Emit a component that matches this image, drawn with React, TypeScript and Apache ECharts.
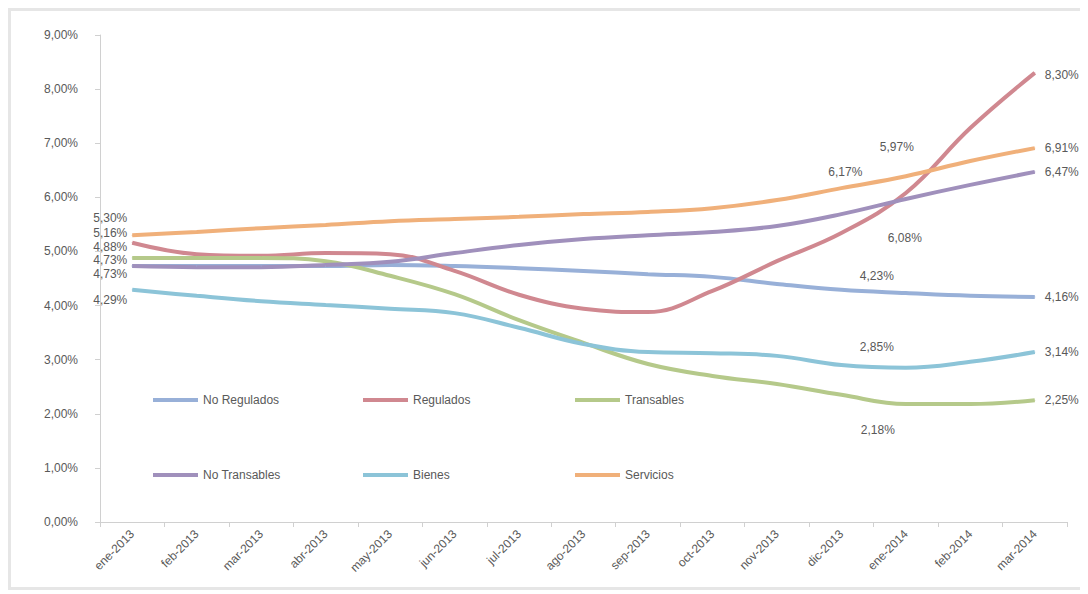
import React, { useEffect, useRef } from "react";
import * as echarts from "echarts";

const categories = [
  "ene-2013", "feb-2013", "mar-2013", "abr-2013", "may-2013", "jun-2013", "jul-2013", "ago-2013",
  "sep-2013", "oct-2013", "nov-2013", "dic-2013", "ene-2014", "feb-2014", "mar-2014",
];

const seriesNames = ["No Regulados", "Regulados", "Transables", "No Transables", "Bienes", "Servicios"];

const noRegulados = [4.73, 4.73, 4.73, 4.73, 4.75, 4.73, 4.69, 4.64, 4.58, 4.53, 4.4, 4.29, 4.23, 4.18, 4.16];
const regulados = [5.16, 4.95, 4.92, 4.97, 4.95, 4.64, 4.2, 3.94, 3.88, 4.27, 4.82, 5.34, 6.08, 7.28, 8.3];
const transables = [4.88, 4.88, 4.88, 4.82, 4.55, 4.21, 3.73, 3.31, 2.92, 2.7, 2.55, 2.35, 2.18, 2.18, 2.25];
const noTransables = [4.73, 4.71, 4.71, 4.75, 4.81, 4.97, 5.12, 5.23, 5.3, 5.36, 5.47, 5.69, 5.97, 6.23, 6.47];
const bienes = [4.29, 4.18, 4.08, 4.01, 3.94, 3.86, 3.59, 3.29, 3.14, 3.12, 3.07, 2.9, 2.85, 2.96, 3.14];
const servicios = [5.3, 5.36, 5.43, 5.49, 5.56, 5.6, 5.64, 5.69, 5.73, 5.8, 5.95, 6.17, 6.39, 6.67, 6.91];

const yTicks = [0, 1, 2, 3, 4, 5, 6, 7, 8, 9];

// styling (not data)
const colors = ["#98b0d8", "#d08890", "#b5c98a", "#a090bc", "#8cc4d8", "#f0b07a"];
// [pointIndex, dx, dy] label placements
const labelSpecs: Array<Array<[number, number, number]>> = [
  [[0, -22, 8], [12, -29, -17], [14, 27, 0]],
  [[0, -22, -10], [12, -1, 45], [14, 27, 2]],
  [[0, -22, -11], [12, -28, 26], [14, 27, 0]],
  [[0, -22, -6], [12, -9, -52], [14, 27, 0]],
  [[0, -22, 10], [12, -29, -21], [14, 27, 0]],
  [[0, -22, -17], [11, 4, -16], [14, 27, 0]],
];

const fmt = (v: number) => v.toFixed(2).replace(".", ",") + "%";

function buildData(values: number[], specs: Array<[number, number, number]>) {
  return values.map((v, i) => {
    const s = specs.find((x) => x[0] === i);
    if (!s) return v;
    return {
      value: v,
      label: { show: true, position: "inside", offset: [s[1], s[2]] },
    };
  });
}

export default function App() {
  const ref = useRef<HTMLDivElement>(null);
  useEffect(() => {
    if (!ref.current) return;
    const chart = echarts.init(ref.current, undefined, { renderer: "svg" });
    const allValues = [noRegulados, regulados, transables, noTransables, bienes, servicios];
    const legLeft = [137, 347, 559];
    const legTop = [378, 453];
    chart.setOption({
      animation: false,
      textStyle: { fontFamily: "Liberation Sans, Arial, sans-serif" },
      grid: { left: 89, right: 16, top: 24, bottom: 65, containLabel: false },
      legend: seriesNames.map((name, i) => ({
        data: [name],
        left: legLeft[i % 3],
        top: legTop[Math.floor(i / 3)],
        icon: "rect",
        itemWidth: 45,
        itemHeight: 4,
        itemGap: 6,
        selectedMode: false,
        textStyle: { color: "#595959", fontSize: 12 },
      })),
      xAxis: {
        type: "category",
        data: categories,
        boundaryGap: true,
        axisLine: { show: true, lineStyle: { color: "#d0d0d0", width: 1 } },
        axisTick: { show: true, lineStyle: { color: "#d0d0d0" } },
        axisLabel: { rotate: 45, fontSize: 12, color: "#595959", margin: 10, interval: 0 },
        splitLine: { show: false },
      },
      yAxis: {
        type: "value",
        min: yTicks[0],
        max: yTicks[yTicks.length - 1],
        interval: 1,
        axisLine: { show: true, lineStyle: { color: "#d0d0d0", width: 1 } },
        axisTick: { show: true, length: 5, lineStyle: { color: "#d0d0d0" } },
        axisLabel: { fontSize: 12, color: "#595959", margin: 22, formatter: (v: number) => fmt(v) },
        splitLine: { show: false },
      },
      series: seriesNames.map((name, i) => ({
        name,
        type: "line",
        smooth: 0.4,
        data: buildData(allValues[i], labelSpecs[i]),
        symbol: "circle",
        symbolSize: 1,
        showSymbol: true,
        showAllSymbol: true,
        color: colors[i],
        itemStyle: { color: colors[i] },
        lineStyle: { color: colors[i], width: 4 },
        label: {
          show: false,
          fontSize: 12,
          color: "#595959",
          formatter: (p: any) => fmt(typeof p.value === "number" ? p.value : p.data.value),
        },
        emphasis: { disabled: true },
      })),
    });
    return () => chart.dispose();
  }, []);
  return (
    <div
      style={{
        width: 1078,
        height: 582,
        border: "3px solid #e6e6e6",
        boxSizing: "border-box",
        background: "#ffffff",
      }}
    >
      <div ref={ref} style={{ width: "100%", height: "100%" }} />
    </div>
  );
}
